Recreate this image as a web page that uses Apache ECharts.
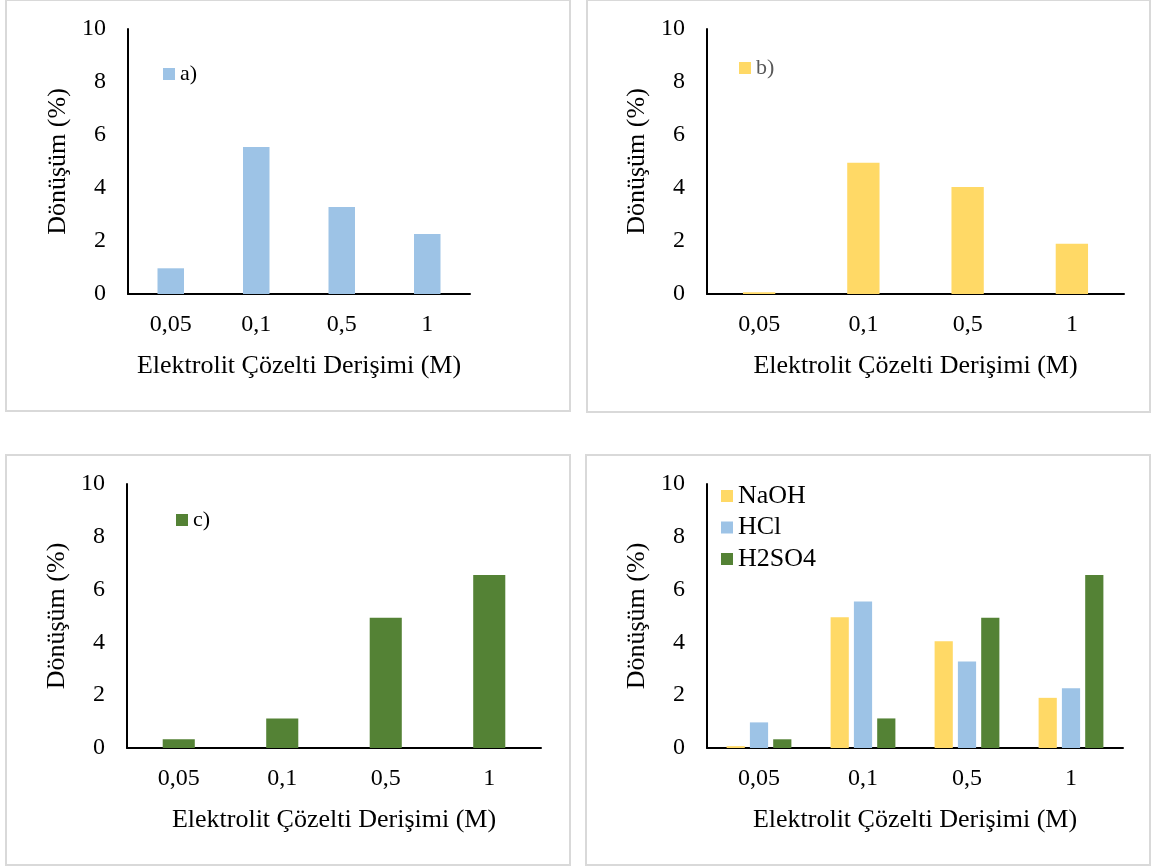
<!DOCTYPE html>
<html>
<head>
<meta charset="utf-8">
<script src="https://cdn.jsdelivr.net/npm/echarts@6/dist/echarts.min.js"></script>
<style>
  html, body { margin: 0; padding: 0; background: #ffffff; }
  #chart { width: 1157px; height: 868px; }
</style>
</head>
<body>
<div id="chart"></div>
<script>
// Concentration categories (M)
const categories = ['0,05', '0,1', '0,5', '1'];

// Conversion (%) for each electrolyte
const naoh  = [0.07, 4.95, 4.04, 1.90];
const hcl   = [0.97, 5.55, 3.28, 2.26];
const h2so4 = [0.33, 1.12, 4.93, 6.55];

// Value axis range
const yMin = 0, yMax = 10, yStep = 2;

const xTitle = 'Elektrolit Çözelti Derişimi (M)';
const yTitle = 'Dönüşüm (%)';

const FONT = '"Liberation Serif", "Times New Roman", serif';
const COLORS = { naoh: '#FFD966', hcl: '#9DC3E6', h2so4: '#548235' };

// Four panels: grid box (px) and outer frame
const panels = [
  { grid: { left: 128, top: 29,  width: 342, height: 265 }, frame: [6, 0, 564, 411] },
  { grid: { left: 707, top: 29,  width: 417, height: 265 }, frame: [587, 0, 563, 412] },
  { grid: { left: 127, top: 484, width: 414, height: 264 }, frame: [6, 455, 564, 410] },
  { grid: { left: 707, top: 484, width: 416, height: 264 }, frame: [586, 455, 564, 410] }
];

const axisLine = { show: true, lineStyle: { color: '#000000', width: 2 } };

const grids = panels.map(p => Object.assign({ containLabel: false }, p.grid));

const xAxes = panels.map((p, i) => ({
  type: 'category',
  gridIndex: i,
  data: categories,
  axisLine: axisLine,
  axisTick: { show: false },
  axisLabel: { fontFamily: FONT, fontSize: 24, color: '#000000', margin: 19 },
  name: xTitle,
  nameLocation: 'middle',
  nameGap: 59,
  nameTextStyle: { fontFamily: FONT, fontSize: 26, color: '#000000' }
}));

const yAxes = panels.map((p, i) => ({
  type: 'value',
  gridIndex: i,
  min: yMin,
  max: yMax,
  interval: yStep,
  axisLine: axisLine,
  axisTick: { show: false },
  splitLine: { show: false },
  axisLabel: { fontFamily: FONT, fontSize: 24, color: '#000000', margin: 22 },
  name: yTitle,
  nameLocation: 'middle',
  nameGap: 57,
  nameTextStyle: { fontFamily: FONT, fontSize: 26, color: '#000000' }
}));

function bar(name, data, color, idx, extra) {
  return Object.assign({
    name: name,
    type: 'bar',
    xAxisIndex: idx,
    yAxisIndex: idx,
    data: data,
    itemStyle: { color: color },
    emphasis: { disabled: true },
    animation: false
  }, extra || {});
}

const series = [
  bar('a)', hcl,   COLORS.hcl,   0, { barWidth: '31%' }),
  bar('b)', naoh,  COLORS.naoh,  1, { barWidth: '31%' }),
  bar('c)', h2so4, COLORS.h2so4, 2, { barWidth: '31%' }),
  bar('NaOH',  naoh,  COLORS.naoh,  3, { barWidth: '17.5%', barGap: '28%' }),
  bar('HCl',   hcl,   COLORS.hcl,   3, { barWidth: '17.5%', barGap: '28%' }),
  bar('H2SO4', h2so4, COLORS.h2so4, 3, { barWidth: '17.5%', barGap: '28%' })
];

function legend(names, left, top, size, color, gap) {
  return {
    data: names,
    orient: 'vertical',
    left: left,
    top: top,
    padding: 0,
    itemGap: gap || 0,
    itemWidth: 12,
    itemHeight: 12,
    icon: 'rect',
    selectedMode: false,
    textStyle: { fontFamily: FONT, fontSize: size, lineHeight: size, color: color }
  };
}

const legends = [
  legend(['a)'], 163, 63, 22, '#000000'),
  legend(['b)'], 739, 57, 22, '#595959'),
  legend(['c)'], 176, 509, 22, '#000000'),
  legend(['NaOH', 'HCl', 'H2SO4'], 721, 483, 26, '#000000', 5.5)
];

const frames = panels.map(p => ({
  type: 'rect',
  silent: true,
  z: -10,
  shape: { x: p.frame[0], y: p.frame[1], width: p.frame[2], height: p.frame[3] },
  style: { fill: '#ffffff', stroke: '#d9d9d9', lineWidth: 2 }
}));

const chart = echarts.init(document.getElementById('chart'), null, { renderer: 'canvas' });
chart.setOption({
  backgroundColor: '#ffffff',
  animation: false,
  graphic: frames,
  grid: grids,
  xAxis: xAxes,
  yAxis: yAxes,
  legend: legends,
  series: series
});
</script>
</body>
</html>
